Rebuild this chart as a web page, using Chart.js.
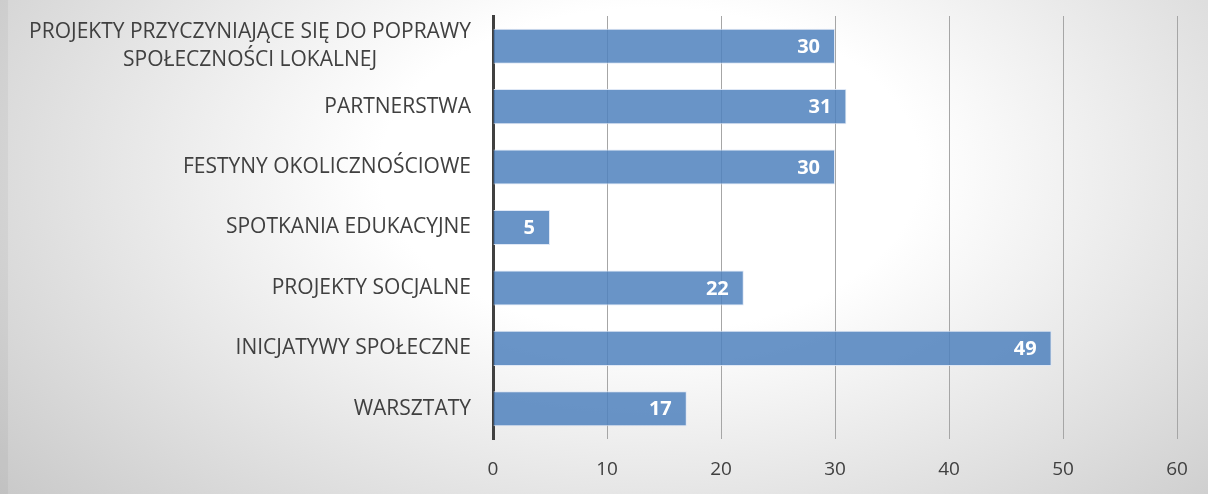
<!DOCTYPE html>
<html>
<head>
<meta charset="utf-8">
<script src="https://cdn.jsdelivr.net/npm/chart.js@4/dist/chart.umd.min.js"></script>
<style>
  html, body { margin: 0; padding: 0; background: #fff; }
  #wrap { width: 1208px; height: 494px; position: relative; }
</style>
</head>
<body>
<div id="wrap"><canvas id="chart"></canvas></div>
<script>
const categories = [
  ["PROJEKTY PRZYCZYNIAJĄCE SIĘ DO POPRAWY", "SPOŁECZNOŚCI LOKALNEJ"],
  "PARTNERSTWA",
  "FESTYNY OKOLICZNOŚCIOWE",
  "SPOTKANIA EDUKACYJNE",
  "PROJEKTY SOCJALNE",
  "INICJATYWY SPOŁECZNE",
  "WARSZTATY"
]
const values = [30, 31, 30, 5, 22, 49, 17]
const xTicks = [0, 10, 20, 30, 40, 50, 60]

const fontFamily = "'Open Sans', 'Noto Sans', sans-serif"
const labelFont = "21px " + fontFamily
const labelPadding = 22
const labelLineHeight = 28

// soft grey radial background like the office chart area
const backgroundPlugin = {
  id: "bg",
  beforeDraw(chart) {
    const ctx = chart.ctx
    const w = chart.width
    const h = chart.height
    const cx = 650
    const cy = 170
    const sy = 0.6
    ctx.save()
    ctx.translate(cx, cy)
    ctx.scale(1, sy)
    const g = ctx.createRadialGradient(0, 0, 0, 0, 0, 900)
    g.addColorStop(0, "#ffffff")
    g.addColorStop(0.3, "#ffffff")
    g.addColorStop(1, "#c4c4c4")
    ctx.fillStyle = g
    ctx.fillRect(-cx, -cy / sy, w, h / sy)
    ctx.restore()
    ctx.save()
    ctx.fillStyle = "rgba(0,0,0,0.04)"
    ctx.fillRect(0, 0, 8, h)
    ctx.restore()
  },
}

// wrapped category labels: block right-aligned, lines centred within it
const wrappedLabels = {
  id: "wrappedLabels",
  afterDraw(chart) {
    const ctx = chart.ctx
    const scale = chart.scales.y
    ctx.save()
    ctx.font = labelFont
    ctx.fillStyle = "#404040"
    ctx.textAlign = "center"
    ctx.textBaseline = "middle"
    categories.forEach((cat, i) => {
      if (!Array.isArray(cat)) return
      const widest = Math.max(...cat.map((l) => ctx.measureText(l).width))
      const cx = scale.right - labelPadding - widest / 2
      const top = scale.getPixelForTick(i) - ((cat.length - 1) * labelLineHeight) / 2
      cat.forEach((line, j) => {
        ctx.fillText(line, cx, top + j * labelLineHeight)
      })
    })
    ctx.restore()
  },
}

// white value labels at the inner end of each bar
const valueLabels = {
  id: "valueLabels",
  afterDatasetsDraw(chart) {
    const ctx = chart.ctx
    const meta = chart.getDatasetMeta(0)
    ctx.save()
    ctx.fillStyle = "#ffffff"
    ctx.font = "bold 20px " + fontFamily
    ctx.textAlign = "right"
    ctx.textBaseline = "middle"
    meta.data.forEach((bar, i) => {
      ctx.fillText(String(values[i]), bar.x - 15, bar.y + 1)
    })
    ctx.restore()
  },
}

new Chart(document.getElementById("chart"), {
  type: "bar",
  data: {
    labels: categories,
    datasets: [
      {
        data: values,
        backgroundColor: "rgba(79, 129, 189, 0.85)",
        borderColor: "rgba(220, 230, 245, 0.9)",
        borderWidth: 1,
        borderSkipped: "start",
        barPercentage: 0.58,
        categoryPercentage: 1,
      },
    ],
  },
  options: {
    indexAxis: "y",
    responsive: true,
    maintainAspectRatio: false,
    animation: false,
    layout: { padding: { top: 16, right: 31, left: 0, bottom: 0 } },
    plugins: {
      legend: { display: false },
      tooltip: { enabled: false },
    },
    scales: {
      x: {
        min: 0,
        max: 60,
        afterBuildTicks(scale) {
          scale.ticks = xTicks.map((v) => ({ value: v }))
        },
        afterFit(scale) {
          scale.height = 55
          scale.paddingLeft = 0
          scale.paddingRight = 0
        },
        grid: {
          color: "#a6a6a6",
          lineWidth: 1,
          drawTicks: false,
        },
        border: { display: false },
        ticks: {
          color: "#404040",
          padding: 19,
          font: { family: fontFamily, size: 19 },
        },
      },
      y: {
        afterFit(scale) {
          scale.width = 493
          scale.paddingTop = 0
          scale.paddingBottom = 0
        },
        grid: { display: false, drawTicks: false },
        border: { color: "#404040", width: 3 },
        ticks: {
          color: "#404040",
          padding: labelPadding,
          font: { family: fontFamily, size: 21 },
          // wrapped labels are drawn by the wrappedLabels plugin
          callback(value, index) {
            const cat = categories[index]
            return Array.isArray(cat) ? "" : cat
          },
        },
      },
    },
  },
  plugins: [backgroundPlugin, valueLabels, wrappedLabels],
})
</script>
</body>
</html>
